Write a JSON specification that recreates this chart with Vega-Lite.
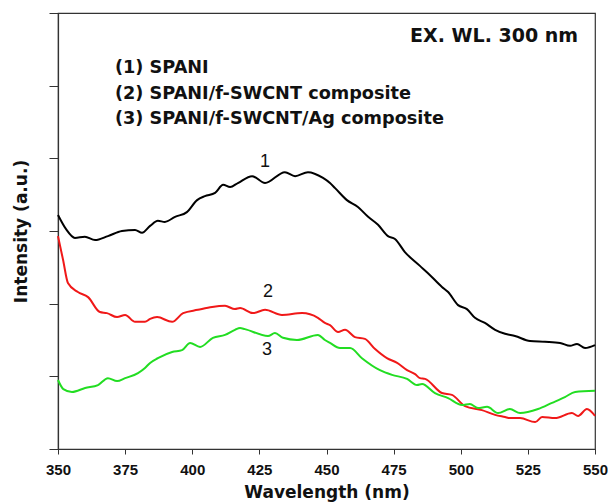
{
  "$schema": "https://vega.github.io/schema/vega-lite/v6.json",
  "autosize": "none",
  "padding": {"left": 58, "top": 13, "right": 13, "bottom": 53},
  "width": 537,
  "height": 436,
  "background": "white",
  "config": {
    "font": "Liberation Sans",
    "view": {"stroke": "#333", "strokeWidth": 1.2}
  },
  "datasets": {
    "spectra": [
      {"wl": 350, "intensity": 6.44, "series": "1"},
      {"wl": 353, "intensity": 6.05, "series": "1"},
      {"wl": 356.3, "intensity": 5.81, "series": "1"},
      {"wl": 360, "intensity": 5.84, "series": "1"},
      {"wl": 363.8, "intensity": 5.75, "series": "1"},
      {"wl": 368.6, "intensity": 5.86, "series": "1"},
      {"wl": 373.8, "intensity": 6.0, "series": "1"},
      {"wl": 378.7, "intensity": 6.03, "series": "1"},
      {"wl": 381.3, "intensity": 5.95, "series": "1"},
      {"wl": 384.3, "intensity": 6.14, "series": "1"},
      {"wl": 387.2, "intensity": 6.28, "series": "1"},
      {"wl": 389.8, "intensity": 6.25, "series": "1"},
      {"wl": 393.6, "intensity": 6.39, "series": "1"},
      {"wl": 398.0, "intensity": 6.52, "series": "1"},
      {"wl": 401.8, "intensity": 6.85, "series": "1"},
      {"wl": 404.7, "intensity": 6.96, "series": "1"},
      {"wl": 408.5, "intensity": 7.05, "series": "1"},
      {"wl": 411.5, "intensity": 7.27, "series": "1"},
      {"wl": 414.1, "intensity": 7.21, "series": "1"},
      {"wl": 417.0, "intensity": 7.32, "series": "1"},
      {"wl": 422.3, "intensity": 7.51, "series": "1"},
      {"wl": 427.1, "intensity": 7.32, "series": "1"},
      {"wl": 434.5, "intensity": 7.62, "series": "1"},
      {"wl": 438.3, "intensity": 7.51, "series": "1"},
      {"wl": 443.1, "intensity": 7.62, "series": "1"},
      {"wl": 448.7, "intensity": 7.46, "series": "1"},
      {"wl": 451.3, "intensity": 7.32, "series": "1"},
      {"wl": 453.2, "intensity": 7.18, "series": "1"},
      {"wl": 457.6, "intensity": 6.85, "series": "1"},
      {"wl": 461.7, "intensity": 6.66, "series": "1"},
      {"wl": 465.5, "intensity": 6.39, "series": "1"},
      {"wl": 469.2, "intensity": 6.17, "series": "1"},
      {"wl": 472.9, "intensity": 5.86, "series": "1"},
      {"wl": 475.5, "intensity": 5.78, "series": "1"},
      {"wl": 479.2, "intensity": 5.42, "series": "1"},
      {"wl": 484.8, "intensity": 5.04, "series": "1"},
      {"wl": 487.8, "intensity": 4.84, "series": "1"},
      {"wl": 493.0, "intensity": 4.46, "series": "1"},
      {"wl": 495.3, "intensity": 4.32, "series": "1"},
      {"wl": 499.0, "intensity": 3.96, "series": "1"},
      {"wl": 502.3, "intensity": 3.85, "series": "1"},
      {"wl": 505.3, "intensity": 3.61, "series": "1"},
      {"wl": 509.0, "intensity": 3.47, "series": "1"},
      {"wl": 512.8, "intensity": 3.28, "series": "1"},
      {"wl": 516.5, "intensity": 3.17, "series": "1"},
      {"wl": 520.2, "intensity": 3.11, "series": "1"},
      {"wl": 525.8, "intensity": 2.97, "series": "1"},
      {"wl": 531.4, "intensity": 2.95, "series": "1"},
      {"wl": 537.0, "intensity": 2.92, "series": "1"},
      {"wl": 540.7, "intensity": 2.84, "series": "1"},
      {"wl": 543.3, "intensity": 2.89, "series": "1"},
      {"wl": 546.3, "intensity": 2.78, "series": "1"},
      {"wl": 550, "intensity": 2.86, "series": "1"},

      {"wl": 350, "intensity": 5.86, "series": "2"},
      {"wl": 351.9, "intensity": 5.2, "series": "2"},
      {"wl": 353.7, "intensity": 4.57, "series": "2"},
      {"wl": 357.4, "intensity": 4.32, "series": "2"},
      {"wl": 361.2, "intensity": 4.18, "series": "2"},
      {"wl": 365.6, "intensity": 3.77, "series": "2"},
      {"wl": 368.2, "intensity": 3.74, "series": "2"},
      {"wl": 372.0, "intensity": 3.63, "series": "2"},
      {"wl": 375.0, "intensity": 3.69, "series": "2"},
      {"wl": 378.7, "intensity": 3.5, "series": "2"},
      {"wl": 382.4, "intensity": 3.5, "series": "2"},
      {"wl": 384.3, "intensity": 3.58, "series": "2"},
      {"wl": 386.9, "intensity": 3.63, "series": "2"},
      {"wl": 392.5, "intensity": 3.5, "series": "2"},
      {"wl": 396.6, "intensity": 3.74, "series": "2"},
      {"wl": 402.1, "intensity": 3.83, "series": "2"},
      {"wl": 407.4, "intensity": 3.91, "series": "2"},
      {"wl": 412.2, "intensity": 3.94, "series": "2"},
      {"wl": 415.9, "intensity": 3.85, "series": "2"},
      {"wl": 417.8, "intensity": 3.88, "series": "2"},
      {"wl": 422.6, "intensity": 3.74, "series": "2"},
      {"wl": 427.1, "intensity": 3.83, "series": "2"},
      {"wl": 433.4, "intensity": 3.69, "series": "2"},
      {"wl": 440.9, "intensity": 3.74, "series": "2"},
      {"wl": 446.8, "intensity": 3.61, "series": "2"},
      {"wl": 449.4, "intensity": 3.47, "series": "2"},
      {"wl": 451.3, "intensity": 3.41, "series": "2"},
      {"wl": 454.3, "intensity": 3.22, "series": "2"},
      {"wl": 456.9, "intensity": 3.28, "series": "2"},
      {"wl": 460.6, "intensity": 3.08, "series": "2"},
      {"wl": 464.3, "intensity": 3.03, "series": "2"},
      {"wl": 468.1, "intensity": 2.75, "series": "2"},
      {"wl": 472.5, "intensity": 2.5, "series": "2"},
      {"wl": 476.3, "intensity": 2.37, "series": "2"},
      {"wl": 480.0, "intensity": 2.17, "series": "2"},
      {"wl": 483.0, "intensity": 2.06, "series": "2"},
      {"wl": 484.8, "intensity": 1.95, "series": "2"},
      {"wl": 486.7, "intensity": 1.93, "series": "2"},
      {"wl": 493.0, "intensity": 1.54, "series": "2"},
      {"wl": 496.7, "intensity": 1.49, "series": "2"},
      {"wl": 501.6, "intensity": 1.18, "series": "2"},
      {"wl": 507.9, "intensity": 1.07, "series": "2"},
      {"wl": 512.8, "intensity": 0.94, "series": "2"},
      {"wl": 516.5, "intensity": 0.88, "series": "2"},
      {"wl": 518.3, "intensity": 0.85, "series": "2"},
      {"wl": 522.1, "intensity": 0.85, "series": "2"},
      {"wl": 527.7, "intensity": 0.74, "series": "2"},
      {"wl": 530.3, "intensity": 0.88, "series": "2"},
      {"wl": 535.1, "intensity": 0.85, "series": "2"},
      {"wl": 541.4, "intensity": 0.99, "series": "2"},
      {"wl": 543.7, "intensity": 0.91, "series": "2"},
      {"wl": 547.0, "intensity": 1.1, "series": "2"},
      {"wl": 550, "intensity": 0.91, "series": "2"},

      {"wl": 350, "intensity": 1.9, "series": "3"},
      {"wl": 352, "intensity": 1.65, "series": "3"},
      {"wl": 355.2, "intensity": 1.57, "series": "3"},
      {"wl": 360.1, "intensity": 1.68, "series": "3"},
      {"wl": 364.9, "intensity": 1.76, "series": "3"},
      {"wl": 368.6, "intensity": 1.95, "series": "3"},
      {"wl": 372.0, "intensity": 1.87, "series": "3"},
      {"wl": 375.0, "intensity": 1.95, "series": "3"},
      {"wl": 379.8, "intensity": 2.09, "series": "3"},
      {"wl": 382.4, "intensity": 2.23, "series": "3"},
      {"wl": 384.3, "intensity": 2.37, "series": "3"},
      {"wl": 387.2, "intensity": 2.5, "series": "3"},
      {"wl": 392.5, "intensity": 2.67, "series": "3"},
      {"wl": 396.2, "intensity": 2.72, "series": "3"},
      {"wl": 399.2, "intensity": 2.92, "series": "3"},
      {"wl": 402.9, "intensity": 2.81, "series": "3"},
      {"wl": 407.7, "intensity": 3.06, "series": "3"},
      {"wl": 412.2, "intensity": 3.14, "series": "3"},
      {"wl": 415.9, "intensity": 3.28, "series": "3"},
      {"wl": 417.8, "intensity": 3.33, "series": "3"},
      {"wl": 419.6, "intensity": 3.3, "series": "3"},
      {"wl": 428.2, "intensity": 3.11, "series": "3"},
      {"wl": 430.8, "intensity": 3.19, "series": "3"},
      {"wl": 433.8, "intensity": 3.06, "series": "3"},
      {"wl": 439.0, "intensity": 3.0, "series": "3"},
      {"wl": 446.8, "intensity": 3.14, "series": "3"},
      {"wl": 449.4, "intensity": 3.0, "series": "3"},
      {"wl": 451.3, "intensity": 2.92, "series": "3"},
      {"wl": 455.0, "intensity": 2.78, "series": "3"},
      {"wl": 458.8, "intensity": 2.78, "series": "3"},
      {"wl": 463.2, "intensity": 2.5, "series": "3"},
      {"wl": 469.9, "intensity": 2.17, "series": "3"},
      {"wl": 474.4, "intensity": 2.04, "series": "3"},
      {"wl": 480.0, "intensity": 1.93, "series": "3"},
      {"wl": 483.7, "intensity": 1.76, "series": "3"},
      {"wl": 485.6, "intensity": 1.79, "series": "3"},
      {"wl": 490.4, "intensity": 1.54, "series": "3"},
      {"wl": 495.3, "intensity": 1.4, "series": "3"},
      {"wl": 500.5, "intensity": 1.21, "series": "3"},
      {"wl": 503.4, "intensity": 1.24, "series": "3"},
      {"wl": 506.4, "intensity": 1.13, "series": "3"},
      {"wl": 509.8, "intensity": 1.16, "series": "3"},
      {"wl": 513.9, "intensity": 0.99, "series": "3"},
      {"wl": 518.3, "intensity": 1.1, "series": "3"},
      {"wl": 522.1, "intensity": 0.99, "series": "3"},
      {"wl": 528.8, "intensity": 1.1, "series": "3"},
      {"wl": 534.0, "intensity": 1.27, "series": "3"},
      {"wl": 538.8, "intensity": 1.43, "series": "3"},
      {"wl": 542.6, "intensity": 1.57, "series": "3"},
      {"wl": 550, "intensity": 1.6, "series": "3"}
    ],
    "legendText": [
      {"wl": 371.2, "y": 10.5, "label": "(1) SPANI"},
      {"wl": 371.2, "y": 9.77, "label": "(2) SPANI/f-SWCNT composite"},
      {"wl": 371.2, "y": 9.08, "label": "(3) SPANI/f-SWCNT/Ag composite"}
    ],
    "titleText": [
      {"wl": 543.7, "y": 11.38, "label": "EX. WL. 300 nm"}
    ],
    "curveLabels": [
      {"wl": 427.1, "y": 7.9, "label": "1"},
      {"wl": 428.2, "y": 4.32, "label": "2"},
      {"wl": 427.8, "y": 2.72, "label": "3"}
    ]
  },
  "layer": [
    {
      "data": {"name": "spectra"},
      "mark": {"type": "line", "strokeWidth": 2, "interpolate": "monotone"},
      "encoding": {
        "x": {
          "field": "wl", "type": "quantitative",
          "scale": {"domain": [350, 550], "nice": false},
          "axis": {
            "title": "Wavelength (nm)",
            "titleFont": "DejaVu Sans",
            "titleFontSize": 17, "titleFontWeight": "bold", "titleColor": "#111", "titlePadding": 7,
            "values": [350, 362.5, 375, 387.5, 400, 412.5, 425, 437.5, 450, 462.5, 475, 487.5, 500, 512.5, 525, 537.5, 550],
            "labelExpr": "datum.value % 25 === 0 ? datum.label : ''",
            "labelFontSize": 15, "labelFontWeight": "bold", "labelColor": "#111", "labelPadding": 8,
            "labelFlush": false, "labelOverlap": false,
            "tickSize": 5, "tickColor": "#333", "domainColor": "#333", "domainWidth": 1.2,
            "grid": false
          }
        },
        "y": {
          "field": "intensity", "type": "quantitative",
          "scale": {"domain": [0, 12], "nice": false},
          "axis": {
            "title": "Intensity (a.u.)",
            "titleFont": "DejaVu Sans",
            "titleFontSize": 17, "titleFontWeight": "bold", "titleColor": "#111", "titlePadding": 18,
            "values": [0, 1, 2, 3, 4, 5, 6, 7, 8, 9, 10, 11, 12],
            "labels": false,
            "tickSize": {"condition": {"test": "datum.value % 2 === 0", "value": 9}, "value": 5},
            "tickColor": "#333", "domainColor": "#333", "domainWidth": 1.2,
            "grid": false
          }
        },
        "color": {
          "field": "series", "type": "nominal",
          "scale": {"domain": ["1", "2", "3"], "range": ["#000000", "#f01818", "#22dd22"]},
          "legend": null
        }
      }
    },
    {
      "data": {"name": "legendText"},
      "mark": {"type": "text", "align": "left", "baseline": "middle", "font": "DejaVu Sans", "fontSize": 17.7, "fontWeight": "bold", "color": "#111"},
      "encoding": {
        "x": {"field": "wl", "type": "quantitative"},
        "y": {"field": "y", "type": "quantitative"},
        "text": {"field": "label"}
      }
    },
    {
      "data": {"name": "titleText"},
      "mark": {"type": "text", "align": "right", "baseline": "middle", "font": "DejaVu Sans", "fontSize": 19, "fontWeight": "bold", "color": "#111"},
      "encoding": {
        "x": {"field": "wl", "type": "quantitative"},
        "y": {"field": "y", "type": "quantitative"},
        "text": {"field": "label"}
      }
    },
    {
      "data": {"name": "curveLabels"},
      "mark": {"type": "text", "align": "center", "baseline": "middle", "fontSize": 18, "color": "#111"},
      "encoding": {
        "x": {"field": "wl", "type": "quantitative"},
        "y": {"field": "y", "type": "quantitative"},
        "text": {"field": "label"}
      }
    }
  ]
}
